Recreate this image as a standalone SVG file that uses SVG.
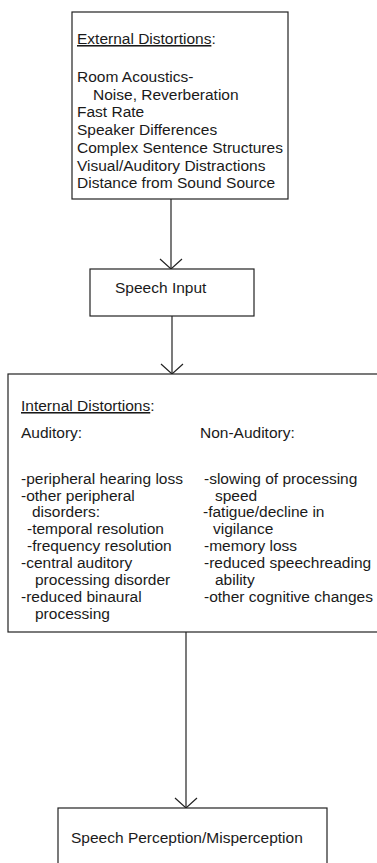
<svg xmlns="http://www.w3.org/2000/svg" width="377" height="863" viewBox="0 0 377 863">
<defs>
<style>
.box{fill:#fff;stroke:#222;stroke-width:1.2}
.t{font-family:"Liberation Sans",Arial,sans-serif;font-size:15.5px;fill:#1a1a1a}
.u{text-decoration:underline}
.conn{stroke:#222;stroke-width:1.2;fill:none}
</style>
<marker id="arr" viewBox="-12 -13 14 26" refX="0" refY="0" markerWidth="14" markerHeight="26" markerUnits="userSpaceOnUse" orient="auto">
<path d="M-10,-11 L0,0 L-10,11" fill="none" stroke="#222" stroke-width="1.2"/>
</marker>
</defs>
<rect width="377" height="863" fill="#fff"/>
<g id="connectors">
<line class="conn" x1="171" y1="199" x2="171" y2="269" marker-end="url(#arr)"/>
<line class="conn" x1="172" y1="316" x2="172" y2="374" marker-end="url(#arr)"/>
<line class="conn" x1="186" y1="632" x2="186" y2="808" marker-end="url(#arr)"/>
</g>
<g id="external">
<rect class="box" x="72" y="12" width="216" height="187"/>
<text class="t" x="77" y="44"><tspan class="u">External Distortions</tspan>:</text>
<text class="t" x="77" y="82">Room Acoustics-</text>
<text class="t" x="93" y="100">Noise, Reverberation</text>
<text class="t" x="77" y="117">Fast Rate</text>
<text class="t" x="77" y="135">Speaker Differences</text>
<text class="t" x="77" y="153">Complex Sentence Structures</text>
<text class="t" x="77" y="171">Visual/Auditory Distractions</text>
<text class="t" x="77" y="188">Distance from Sound Source</text>
</g>
<g id="speech-input">
<rect class="box" x="90" y="269" width="164" height="47"/>
<text class="t" x="115" y="293">Speech Input</text>
</g>
<g id="internal">
<rect class="box" x="8" y="374" width="390" height="258"/>
<text class="t" x="21" y="411"><tspan class="u">Internal Distortions</tspan>:</text>
<text class="t" x="21" y="438">Auditory:</text>
<text class="t" x="200" y="438">Non-Auditory:</text>
<text class="t" x="21" y="484">-peripheral hearing loss</text>
<text class="t" x="21" y="501">-other peripheral</text>
<text class="t" x="32" y="517">disorders:</text>
<text class="t" x="27" y="534">-temporal resolution</text>
<text class="t" x="27" y="551">-frequency resolution</text>
<text class="t" x="21" y="568">-central auditory</text>
<text class="t" x="35" y="585">processing disorder</text>
<text class="t" x="21" y="602">-reduced binaural</text>
<text class="t" x="35" y="619">processing</text>
<text class="t" x="204" y="484">-slowing of processing</text>
<text class="t" x="215" y="501">speed</text>
<text class="t" x="203" y="517">-fatigue/decline in</text>
<text class="t" x="213" y="534">vigilance</text>
<text class="t" x="204" y="551">-memory loss</text>
<text class="t" x="204" y="568">-reduced speechreading</text>
<text class="t" x="215" y="585">ability</text>
<text class="t" x="204" y="602">-other cognitive changes</text>
</g>
<g id="perception">
<rect class="box" x="58" y="808" width="269" height="80"/>
<text class="t" x="71" y="843">Speech Perception/Misperception</text>
</g>
</svg>
